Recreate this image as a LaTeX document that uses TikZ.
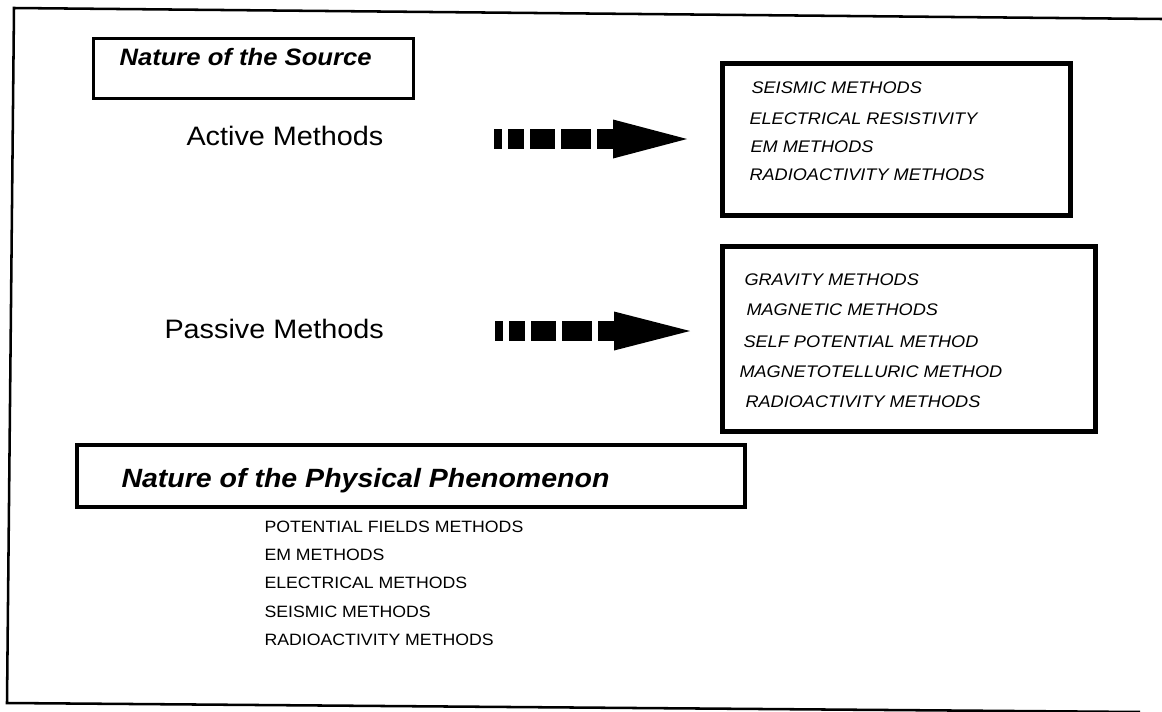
\documentclass[tikz,border=0pt]{standalone}
\usepackage{fontspec}
\setmainfont{Liberation Sans}[FakeStretch=1.08]
\usetikzlibrary{calc}

\tikzset{every picture/.style={line width=0.75pt}}
\tikzset{
  frame/.style={line width=1.9pt},
  boxthin/.style={line width=2.25pt},
  boxmid/.style={line width=3pt},
  boxthick/.style={line width=3.75pt},
  shaft/.style={line width=15pt,dash pattern=on 6pt off 4.5pt on 12pt off 4.5pt on 18.75pt off 4.5pt on 22.5pt off 4.5pt on 30pt},
  headtxt/.style={font=\fontsize{17.8}{21}\selectfont\bfseries\itshape},
  bighead/.style={font=\fontsize{19.8}{23}\selectfont\bfseries\itshape},
  methtxt/.style={font=\fontsize{20}{24}\selectfont},
  listtxt/.style={font=\fontsize{12.6}{15}\selectfont\itshape},
  plaintxt/.style={font=\fontsize{12.3}{15}\selectfont}
}

\begin{document}
\begin{tikzpicture}[x=0.75pt,y=0.75pt,yscale=-1,xscale=1]
\useasboundingbox (0,0) rectangle (1162,711);

%Straight Lines: outer frame
\draw [frame]   (1162,19) -- (14,8) -- (7,703) -- (1140,712) ;

%Shape: Rectangle [source]
\draw [boxthin]   (93,38) rectangle (413,98) ;
%Shape: Rectangle [active list]
\draw [boxthick]   (722,63) rectangle (1070,215) ;
%Shape: Rectangle [passive list]
\draw [boxthick]   (722,246) rectangle (1095,431) ;
%Shape: Rectangle [phenomenon]
\draw [boxmid]   (77,445) rectangle (745,507) ;

%Arrow: active
\coordinate (a1s) at (494,139) ;
\coordinate (a1h) at (615,139) ;
\coordinate (a1e) at (687,139) ;
\draw [shaft]   (a1s) -- (a1h) ;
\fill   ($(a1h)+(-2,-19.5)$) -- (a1e) -- ($(a1h)+(-2,19.5)$) -- cycle ;

%Arrow: passive
\coordinate (a2s) at (495,331) ;
\coordinate (a2h) at (616,331) ;
\coordinate (a2e) at (690,331) ;
\draw [shaft]   (a2s) -- (a2h) ;
\fill   ($(a2h)+(-2,-19.5)$) -- (a2e) -- ($(a2h)+(-2,19.5)$) -- cycle ;

% Text Node
\draw (118,65) node [anchor=base west][inner sep=0.75pt] [headtxt] (srchead) {Nature of the Source};
% Text Node
\draw (185,145) node [anchor=base west][inner sep=0.75pt] [methtxt] (active) {Active Methods};
% Text Node
\draw (163,338) node [anchor=base west][inner sep=0.75pt] [methtxt] (passive) {Passive Methods};

% Text Node
\draw (750,93) node [anchor=base west][inner sep=0.75pt] [listtxt] (act1) {SEISMIC METHODS};
% Text Node
\draw (748,124) node [anchor=base west][inner sep=0.75pt] [listtxt] (act2) {ELECTRICAL RESISTIVITY};
% Text Node
\draw (749,152) node [anchor=base west][inner sep=0.75pt] [listtxt] (act3) {EM METHODS};
% Text Node
\draw (748,180) node [anchor=base west][inner sep=0.75pt] [listtxt] (act4) {RADIOACTIVITY METHODS};

% Text Node
\draw (743,285) node [anchor=base west][inner sep=0.75pt] [listtxt] (pas1) {GRAVITY METHODS};
% Text Node
\draw (745,315) node [anchor=base west][inner sep=0.75pt] [listtxt] (pas2) {MAGNETIC METHODS};
% Text Node
\draw (742,347) node [anchor=base west][inner sep=0.75pt] [listtxt] (pas3) {SELF POTENTIAL METHOD};
% Text Node
\draw (738,377) node [anchor=base west][inner sep=0.75pt] [listtxt] (pas4) {MAGNETOTELLURIC METHOD};
% Text Node
\draw (744,407) node [anchor=base west][inner sep=0.75pt] [listtxt] (pas5) {RADIOACTIVITY METHODS};

% Text Node
\draw (120,487) node [anchor=base west][inner sep=0.75pt] [bighead] (phyhead) {Nature of the Physical Phenomenon};
% Text Node
\draw (263,532) node [anchor=base west][inner sep=0.75pt] [plaintxt] (phy1) {POTENTIAL FIELDS METHODS};
% Text Node
\draw (263,560) node [anchor=base west][inner sep=0.75pt] [plaintxt] (phy2) {EM METHODS};
% Text Node
\draw (263,588) node [anchor=base west][inner sep=0.75pt] [plaintxt] (phy3) {ELECTRICAL METHODS};
% Text Node
\draw (263,617) node [anchor=base west][inner sep=0.75pt] [plaintxt] (phy4) {SEISMIC METHODS};
% Text Node
\draw (263,645) node [anchor=base west][inner sep=0.75pt] [plaintxt] (phy5) {RADIOACTIVITY METHODS};

\end{tikzpicture}
\end{document}
